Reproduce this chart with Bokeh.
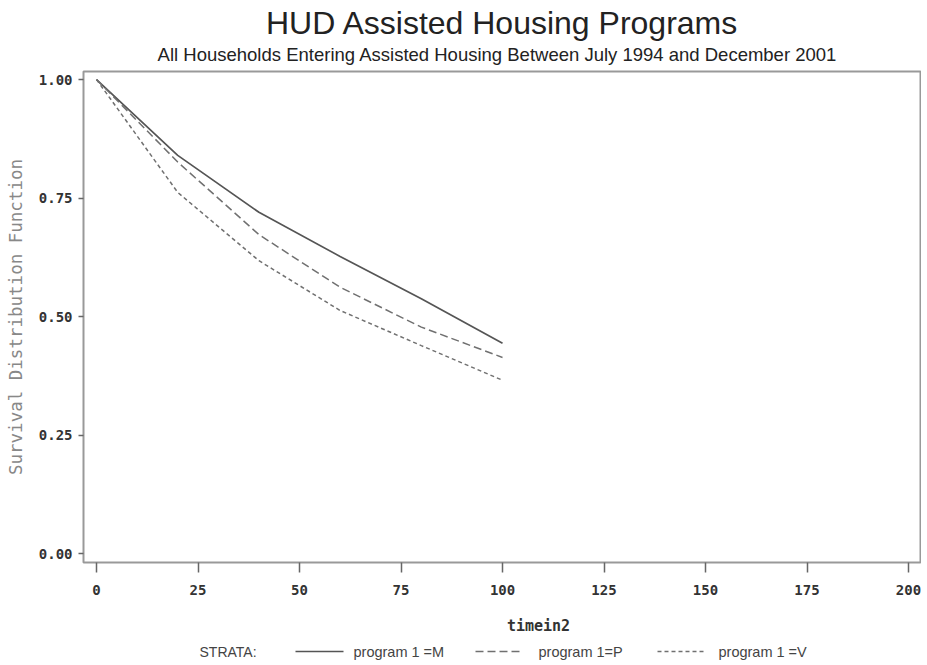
import math
from bokeh.plotting import figure
from bokeh.layouts import column
from bokeh.models import Range1d, FixedTicker, NumeralTickFormatter
from bokeh.core.properties import value
from bokeh.embed import file_html
from bokeh.resources import INLINE

# ---- data ----
time_pts = [0, 20, 40, 60, 80, 100]
surv_M = [1.0, 0.84, 0.72, 0.627, 0.538, 0.444]
surv_P = [1.0, 0.826, 0.673, 0.562, 0.478, 0.414]
surv_V = [1.0, 0.762, 0.618, 0.513, 0.439, 0.366]
strata_labels = ["program 1 =M", "program 1=P", "program 1 =V"]
x_ticks = [0, 25, 50, 75, 100, 125, 150, 175, 200]
y_ticks = [0.0, 0.25, 0.5, 0.75, 1.0]

W = 921
HEAD_H = 68
MAIN_TOP, MAIN_BOT = 68, 605
FOOT_H = 59
FL, FT, FB = 83, 71, 562   # plot frame edges in page pixels


def blank(height, y0):
    # frames of a column are aligned with the main plot's frame (x from FL to W)
    f = figure(width=W, height=height, output_backend="svg", toolbar_location=None,
               title=None, x_range=Range1d(FL, W), y_range=Range1d(y0 + height, y0),
               x_axis_type=None, y_axis_type=None, min_border=0,
               min_border_left=FL, min_border_right=0)
    f.grid.visible = False
    f.outline_line_color = None
    return f

# ---- header ----
head = blank(HEAD_H, 0)
head.text(x=[502], y=[22], text=["HUD Assisted Housing Programs"],
          text_font=value("Liberation Sans"), text_font_size="32px",
          text_color="#222222", text_align="center", text_baseline="middle")
head.text(x=[497], y=[54], text=["All Households Entering Assisted Housing Between July 1994 and December 2001"],
          text_font=value("Liberation Sans"), text_font_size="18.5px",
          text_color="#222222", text_align="center", text_baseline="middle")

# ---- main plot ----
p = figure(width=W, height=MAIN_BOT - MAIN_TOP, output_backend="svg", toolbar_location=None,
           title=None, x_range=Range1d(-3.21, 203.2), y_range=Range1d(-0.0183, 1.0169),
           min_border_left=FL, min_border_right=0, min_border_top=FT - MAIN_TOP,
           min_border_bottom=MAIN_BOT - FB)
p.grid.visible = False
p.outline_line_color = "#999999"
p.outline_line_width = 2

for ax in (p.xaxis[0], p.yaxis[0]):
    ax.axis_line_color = None
    ax.minor_tick_line_color = None
    ax.major_tick_line_color = "#666666"
    ax.major_tick_line_width = 1.5
    ax.major_tick_in = 0
    ax.major_label_text_font = "DejaVu Sans Mono"
    ax.major_label_text_font_style = "bold"
    ax.major_label_text_font_size = "14px"
    ax.major_label_text_color = "#333333"

p.xaxis[0].ticker = FixedTicker(ticks=x_ticks)
p.xaxis[0].major_tick_out = 10
p.xaxis[0].major_label_standoff = 12
p.xaxis[0].formatter = NumeralTickFormatter(format="0")
p.yaxis[0].ticker = FixedTicker(ticks=y_ticks)
p.yaxis[0].major_tick_out = 5
p.yaxis[0].major_label_standoff = 6
p.yaxis[0].formatter = NumeralTickFormatter(format="0.00")
p.yaxis[0].axis_label = "Survival Distribution Function"
p.yaxis[0].axis_label_text_font = "DejaVu Sans Mono"
p.yaxis[0].axis_label_text_font_style = "normal"
p.yaxis[0].axis_label_text_font_size = "17.5px"
p.yaxis[0].axis_label_text_color = "#888888"
p.yaxis[0].axis_label_standoff = 10

p.line(time_pts, surv_M, line_color="#555555", line_width=1.7)
p.line(time_pts, surv_P, line_color="#707070", line_width=1.5, line_dash="8 4")
p.line(time_pts, surv_V, line_color="#707070", line_width=1.5, line_dash="4 3")

# ---- footer: x label + legend ----
foot = blank(FOOT_H, MAIN_BOT)
foot.text(x=[538], y=[625], text=["timein2"], text_font=value("DejaVu Sans Mono"),
          text_font_style="bold", text_font_size="15px", text_color="#333333",
          text_align="center", text_baseline="middle")
leg_y = 651
foot.text(x=[199], y=[leg_y], text=["STRATA:"], text_font=value("Liberation Sans"),
          text_font_size="14px", text_color="#444444", text_baseline="middle")
samples = [(295, 343, "solid", "#555555", 1.7), (475, 522, "8 4", "#707070", 1.5),
           (657, 705, "4 3", "#707070", 1.5)]
text_x = [353, 538, 718]
for (x0, x1, dash, col, lw), tx, lab in zip(samples, text_x, strata_labels):
    foot.segment(x0=[x0], y0=[leg_y], x1=[x1], y1=[leg_y], line_color=col,
                 line_width=lw, line_dash=dash)
    foot.text(x=[tx], y=[leg_y], text=[lab], text_font=value("Liberation Sans"),
              text_font_size="14.5px", text_color="#444444", text_baseline="middle")

layout = column(head, p, foot, spacing=0)
open("out.html", "w").write(file_html(layout, INLINE))
